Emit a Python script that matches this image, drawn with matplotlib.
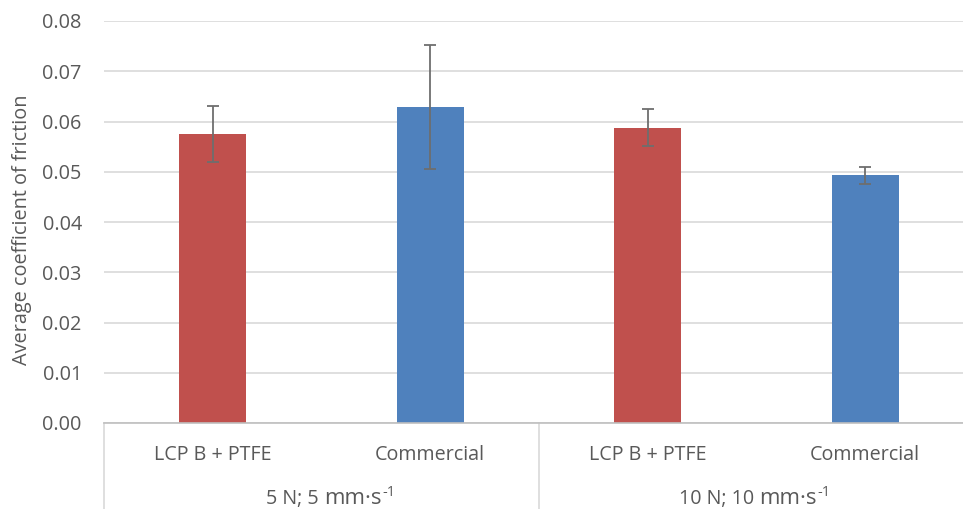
import matplotlib
matplotlib.use("Agg")
import matplotlib.pyplot as plt
import matplotlib.transforms as mtransforms

# Data
materials = ["LCP B + PTFE", "Commercial", "LCP B + PTFE", "Commercial"]
cond_force = ["5 N; 5", "10 N; 10"]
cond_unit = "mm·s"
cond_exp = "-1"
mean_cof = [0.0575, 0.0629, 0.0588, 0.0493]
err_cof = [0.0056, 0.0123, 0.0037, 0.0017]
bar_colors = ["#C0504D", "#4F81BD", "#C0504D", "#4F81BD"]
yticks = [0.00, 0.01, 0.02, 0.03, 0.04, 0.05, 0.06, 0.07, 0.08]

plt.rcParams["font.family"] = ["Open Sans", "DejaVu Sans"]
text_color = "#595959"

W, H = 963, 509
fig = plt.figure(figsize=(W / 100, H / 100), dpi=100)
ax = fig.add_axes([104 / W, 1 - 423 / H, (974 - 104) / W, (423 - 21) / H])

x = list(range(len(materials)))
ax.bar(x, mean_cof, width=0.31, color=bar_colors, zorder=2)
ax.errorbar(x, mean_cof, yerr=err_cof, fmt="none", ecolor="#6e6e6e",
            elinewidth=1.3, capsize=4.5, capthick=1.3, zorder=3)

ax.set_xlim(-0.5, 3.5)
ax.set_ylim(0, 0.08)
ax.set_yticks(yticks)
ax.set_yticklabels([f"{v:.2f}" for v in yticks], fontsize=14.3, color=text_color)
ax.tick_params(axis="y", length=0, pad=16)
ax.tick_params(axis="x", length=0)
ax.set_xticks([])
ax.grid(axis="y", color="#d9d9d9", linewidth=1.2, zorder=0)
for side in ["left", "right", "top"]:
    ax.spines[side].set_visible(False)
ax.spines["bottom"].set_color("#bfbfbf")
ax.spines["bottom"].set_linewidth(1.2)

ax.set_ylabel("Average coefficient of friction", fontsize=14.3, color=text_color)
ax.yaxis.set_label_coords(-72 / (974 - 104), 0.48)

# Two-level category axis below the plot
trans = mtransforms.blended_transform_factory(ax.transData, ax.transAxes)
px = 1 / (423 - 21)
for xi, lab in zip(x, materials):
    ax.text(xi, -32 * px, lab, transform=trans, ha="center", va="center",
            fontsize=14.2, color=text_color)

renderer = fig.canvas.get_renderer()
for gi, lab in enumerate(cond_force):
    xc = gi * 2 + 0.5
    ax.text(xc - 0.012, -81 * px, lab, transform=trans, ha="right",
            va="baseline", fontsize=14.2, color=text_color)
    unit = ax.text(xc + 0.012, -81 * px, cond_unit, transform=trans, ha="left",
                   va="baseline", fontsize=16, color=text_color)
    bb = unit.get_window_extent(renderer)
    ax.annotate(cond_exp, xy=(bb.x1, bb.y0), xycoords="figure pixels",
                xytext=(0.5, 9.5), textcoords="offset points", ha="left",
                va="baseline", fontsize=10.5, color=text_color,
                annotation_clip=False)
for xs in [-0.5, 1.5, 3.5]:
    ax.plot([xs, xs], [0, -100 * px], transform=trans, color="#d9d9d9",
            linewidth=1.2, clip_on=False)

fig.savefig("out.png", dpi=100, facecolor="white")
